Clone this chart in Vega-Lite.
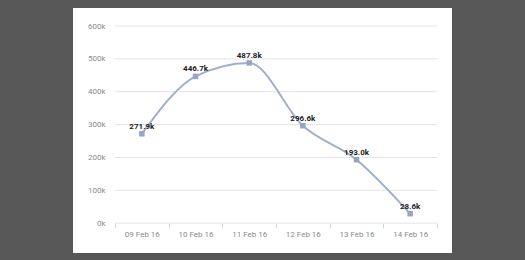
{
  "$schema": "https://vega.github.io/schema/vega-lite/v6.json",
  "width": 379,
  "height": 245,
  "autosize": {"type": "none"},
  "padding": {"left": 73, "top": 8, "right": 73, "bottom": 7},
  "background": "#575757",
  "config": {
    "view": {"fill": "#ffffff", "stroke": null},
    "font": "Liberation Sans Narrow, Roboto, sans-serif"
  },
  "datasets": {
    "series": [
      {"date": "09 Feb 16", "value": 271900, "label": "271.9k"},
      {"date": "10 Feb 16", "value": 446700, "label": "446.7k"},
      {"date": "11 Feb 16", "value": 487800, "label": "487.8k"},
      {"date": "12 Feb 16", "value": 296600, "label": "296.6k"},
      {"date": "13 Feb 16", "value": 193000, "label": "193.0k"},
      {"date": "14 Feb 16", "value": 28600, "label": "28.6k"}
    ],
    "grid": [
      {"v": 0}, {"v": 100000}, {"v": 200000}, {"v": 300000},
      {"v": 400000}, {"v": 500000}, {"v": 600000}
    ]
  },
  "layer": [
    {
      "data": {"name": "grid"},
      "mark": {"type": "rule", "color": "#e4e4e4", "strokeWidth": 1},
      "encoding": {
        "y": {"field": "v", "type": "quantitative"},
        "x": {"datum": "09 Feb 16", "type": "nominal", "bandPosition": 0},
        "x2": {"datum": "14 Feb 16", "bandPosition": 1}
      }
    },
    {
      "data": {"name": "series"},
      "mark": {"type": "line", "interpolate": "monotone", "color": "#a2aecc", "strokeWidth": 2},
      "encoding": {
        "x": {"field": "date", "type": "nominal"},
        "y": {"field": "value", "type": "quantitative"}
      }
    },
    {
      "data": {"name": "series"},
      "mark": {"type": "point", "shape": "square", "filled": true, "size": 30, "color": "#98a4c4", "opacity": 1},
      "encoding": {
        "x": {"field": "date", "type": "nominal"},
        "y": {"field": "value", "type": "quantitative"}
      }
    },
    {
      "data": {"name": "series"},
      "mark": {"type": "text", "baseline": "bottom", "dy": -3, "fontSize": 8, "fontWeight": "bold", "color": "#222222"},
      "encoding": {
        "x": {"field": "date", "type": "nominal"},
        "y": {"field": "value", "type": "quantitative"},
        "text": {"field": "label"}
      }
    }
  ],
  "resolve": {"scale": {"x": "shared", "y": "shared"}},
  "encoding": {
    "x": {
      "field": "date",
      "type": "nominal",
      "sort": null,
      "scale": {
        "type": "band",
        "domain": ["09 Feb 16", "10 Feb 16", "11 Feb 16", "12 Feb 16", "13 Feb 16", "14 Feb 16"],
        "paddingInner": 0,
        "paddingOuter": 0.531,
        "align": 0.737
      },
      "axis": {
        "title": null,
        "orient": "bottom",
        "offset": -30,
        "domain": false,
        "grid": false,
        "tickBand": "extent",
        "tickSize": 5,
        "tickColor": "#d0d6e4",
        "labelAngle": 0,
        "labelPadding": 2,
        "labelFontSize": 8,
        "labelColor": "#8a8a8a"
      }
    },
    "y": {
      "field": "value",
      "type": "quantitative",
      "scale": {"domain": [-91000, 655000], "nice": false, "zero": false},
      "axis": {
        "title": null,
        "offset": -37,
        "domain": false,
        "ticks": false,
        "grid": false,
        "values": [0, 100000, 200000, 300000, 400000, 500000, 600000],
        "labelExpr": "(datum.value / 1000) + 'k'",
        "labelPadding": 5,
        "labelFontSize": 8,
        "labelColor": "#8a8a8a"
      }
    }
  }
}
